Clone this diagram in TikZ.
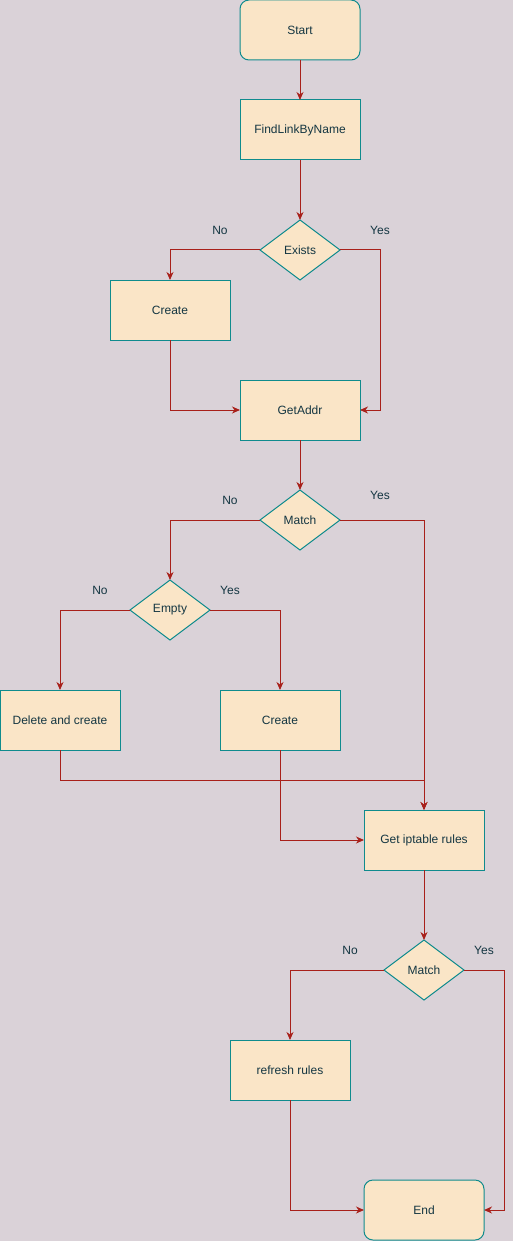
\documentclass[tikz,border=0pt]{standalone}
\usepackage{fontspec}
\setmainfont{Liberation Sans}
\usetikzlibrary{shapes.geometric,arrows.meta}
\definecolor{bgcol}{HTML}{DAD2D8}
\definecolor{nodefill}{HTML}{FAE5C7}
\definecolor{nodeline}{HTML}{0F8B8D}
\definecolor{edgecol}{HTML}{A8201A}
\definecolor{txtcol}{HTML}{143642}

\begin{document}
\begin{tikzpicture}[x=1pt,y=-1pt,
    box/.style={draw=nodeline,fill=nodefill,line width=1pt,minimum width=120pt,
        minimum height=60pt,inner sep=0pt,outer sep=0pt,text=txtcol,
        font=\fontsize{12}{14}\selectfont},
    term/.style={box,rounded corners=9pt},
    test/.style={box,diamond,aspect=1.333,minimum width=80pt,minimum height=60pt},
    flow/.style={draw=edgecol,line width=1pt,-{Stealth[length=8pt,width=7pt,inset=2.5pt]}},
    lbl/.style={text=txtcol,font=\fontsize{12}{14}\selectfont,inner sep=0pt}]
    \fill[bgcol] (0,0) rectangle (513,1241);
    \useasboundingbox (0,0) rectangle (513,1241);

    % nodes
    \node[term] (start) at (300,30) {Start};
    \node[box] (find) at (300,130) {FindLinkByName};
    \node[test] (exists) at (300,250) {Exists};
    \node[box] (create1) at (170,310) {Create};
    \node[box] (getaddr) at (300,410) {GetAddr};
    \node[test] (match1) at (300,520) {Match};
    \node[test] (empty) at (170,610) {Empty};
    \node[box] (delete) at (60,720) {Delete and create};
    \node[box] (create2) at (280,720) {Create};
    \node[box] (rules) at (424,840) {Get iptable rules};
    \node[test] (match2) at (424,970) {Match};
    \node[box] (refresh) at (290,1070) {refresh rules};
    \node[term] (end) at (424,1210) {End};

    % labels
    \node[lbl] (no1) at (220,230) {No};
    \node[lbl] (yes1) at (380,230) {Yes};
    \node[lbl] (no2) at (230,500) {No};
    \node[lbl] (yes2) at (380,495) {Yes};
    \node[lbl] (no3) at (100,590) {No};
    \node[lbl] (yes3) at (230,590) {Yes};
    \node[lbl] (no4) at (350,950) {No};
    \node[lbl] (yes4) at (484,950) {Yes};

    % connectors
    \draw[flow] (start) -- (find);
    \draw[flow] (find) -- (exists);
    \draw[flow] (exists.west) -| (create1.north);
    \draw[flow] (exists.east) -| (380,410) -- (getaddr.east);
    \draw[flow] (create1.south) |- (getaddr.west);
    \draw[flow] (getaddr) -- (match1);
    \draw[flow] (match1.west) -| (empty.north);
    \draw[flow] (match1.east) -| (rules.north);
    \draw[flow] (empty.west) -| (delete.north);
    \draw[flow] (empty.east) -| (create2.north);
    \draw[flow] (delete.south) -- (60,780) -| (rules.north);
    \draw[flow] (create2.south) |- (rules.west);
    \draw[flow] (rules) -- (match2);
    \draw[flow] (match2.west) -| (refresh.north);
    \draw[flow] (match2.east) -| (504,1210) -- (end.east);
    \draw[flow] (refresh.south) |- (end.west);
\end{tikzpicture}
\end{document}
